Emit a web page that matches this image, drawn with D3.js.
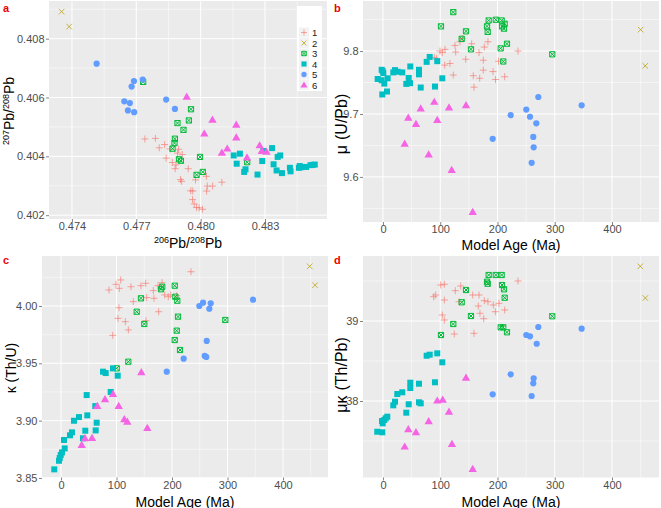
<!DOCTYPE html>
<html><head><meta charset="utf-8">
<script src="https://cdn.jsdelivr.net/npm/d3@7"></script>
<style>body{margin:0;background:#fff} text{font-family:"Liberation Sans",Arial,sans-serif}</style>
</head><body><svg id="c" width="661" height="508"></svg>
<script>
// ---------- data ----------
const groups = ["1","2","3","4","5","6"];
const groupColors = ["#F8766D","#B79F00","#00BA38","#00BFC4","#619CFF","#F564E3"];
const ageTicks = [0,100,200,300,400];
const aXTicks = [0.474,0.477,0.480,0.483];
const aYTicks = [0.402,0.404,0.406,0.408];
const bYTicks = [9.6,9.7,9.8];
const cYTicks = [3.85,3.90,3.95,4.00];
const dYTicks = [38,39];

// panel a: 206Pb/208Pb vs 207Pb/208Pb
const aG1 = [[0.4774,0.40459],[0.47789,0.40461],[0.47832,0.4044],[0.47807,0.40429],[0.47839,0.40394],[0.47857,0.40425],[0.47892,0.40411],[0.47897,0.40424],[0.47914,0.40406],[0.47868,0.40379],[0.47885,0.40371],[0.47881,0.40358],[0.47942,0.40358],[0.47906,0.40321],[0.47911,0.40315],[0.47976,0.4032],[0.48027,0.40332],[0.48099,0.40312],[0.47954,0.40283],[0.47963,0.40282],[0.48031,0.40299],[0.48056,0.40299],[0.48028,0.40282],[0.47962,0.40253],[0.4797,0.40238],[0.47981,0.40226],[0.47993,0.40225],[0.48009,0.4022]];
const aG2 = [[0.47352,0.40892],[0.47387,0.40841]];
const aG3 = [[0.47732,0.40653],[0.47955,0.4056],[0.47892,0.40513],[0.47945,0.40522],[0.4792,0.4049],[0.4788,0.4046],[0.47878,0.40445],[0.47869,0.40426],[0.47899,0.4039],[0.47908,0.40385],[0.47997,0.40398],[0.4801,0.40347],[0.47981,0.40337],[0.48217,0.4038]];
const aG4 = [[0.48154,0.40403],[0.48183,0.40409],[0.48168,0.40375],[0.48209,0.40356],[0.48203,0.40347],[0.48265,0.40338],[0.48287,0.40384],[0.48292,0.40418],[0.48333,0.40428],[0.48359,0.40398],[0.48371,0.40403],[0.4834,0.40373],[0.48354,0.40352],[0.48379,0.40343],[0.48416,0.40361],[0.48419,0.40349],[0.48458,0.40361],[0.48462,0.40367],[0.4847,0.40363],[0.48492,0.40364],[0.48512,0.4037],[0.48522,0.40371],[0.48532,0.40372]];
const aG5 = [[0.47515,0.40715],[0.47689,0.40656],[0.4773,0.40661],[0.47678,0.40637],[0.47644,0.40587],[0.4767,0.40581],[0.47661,0.40556],[0.4769,0.4055],[0.47839,0.40593],[0.4788,0.40561]];
const aG6 = [[0.47935,0.40602],[0.48055,0.40524],[0.48017,0.40477],[0.48166,0.40507],[0.48166,0.40464],[0.48099,0.40412],[0.48124,0.40426],[0.48216,0.40396],[0.48275,0.40437],[0.48285,0.40418],[0.48307,0.40415]];

// panel b: model age vs mu (U/Pb)
const bG1 = [[99.6,9.8],[108.3,9.8027],[103.6,9.7975],[89.6,9.7897],[93.8,9.7881],[107.8,9.7776],[117,9.7802],[122.8,9.7619],[125.8,9.8089],[127,9.7984],[134.5,9.8147],[138.5,9.8199],[154.9,9.8116],[157.7,9.7608],[159,9.7426],[167.7,9.7975],[177,9.8063],[175.2,9.7854],[175.2,9.7697],[183.4,9.8147],[144.5,9.787],[168.9,9.7567],[196.5,9.7548],[192.2,9.7674],[201.8,9.7838],[235.8,9.8],[212.6,9.7592]];
const bG2 = [[450,9.834],[458,9.7765]];
const bG3 = [[122.8,9.8618],[101.3,9.8392],[145,9.8313],[137.5,9.8194],[153.7,9.8027],[197,9.8497],[181.7,9.8392],[184.6,9.8486],[182.9,9.8304],[207.3,9.8486],[212.5,9.8434],[207.9,9.8392],[211.4,9.8356],[216.6,9.8116],[205.6,9.8042],[210.1,9.7834],[295.7,9.7948]];
const bG4 = [[-9.3,9.7556],[-2.3,9.7702],[-0.5,9.7682],[0.6,9.765],[-2.3,9.7536],[-1.2,9.731],[2.3,9.7483],[7,9.7357],[8.2,9.7567],[18,9.7661],[21,9.7697],[25.7,9.7671],[33.7,9.7661],[40.7,9.7478],[44.9,9.7572],[47.2,9.7489],[47.7,9.7755],[62.9,9.7702],[62.9,9.763],[65.9,9.742],[76.3,9.7828],[81.6,9.7906],[90.8,9.7436],[94.8,9.7839],[103.6,9.7567]];
const bG5 = [[191.6,9.6605],[271.3,9.727],[347,9.7138],[250.3,9.707],[223,9.6981],[256.8,9.6956],[267.8,9.6851],[262.5,9.6636],[263.2,9.647],[259.7,9.6224]];
const bG6 = [[65.9,9.7086],[89.6,9.7191],[115.3,9.7102],[145,9.7138],[44.2,9.694],[57.6,9.684],[94.8,9.6903],[37.9,9.6527],[79.8,9.6354],[120,9.611],[156.7,9.544]];

// panel c: model age vs kappa (Th/U)
const cG1 = [[86.5,4.014],[99.1,4.0189],[107.6,4.0227],[105,4.0154],[126.1,4.0168],[144.1,4.0177],[152.6,4.0198],[166.3,4.0134],[174.8,4.0177],[182,4.0203],[130.3,4.0038],[154.4,4.0073],[167.6,4.0067],[176,3.995],[104.5,3.9985],[102.7,3.9892],[115.9,3.9863],[121.3,3.9791],[93.2,3.9744],[153.2,3.9872],[197.7,4.0096],[208.5,4.009],[234.2,4.0299],[186.8,4.0096],[193.3,4.0081]];
const cG2 = [[448,4.0346],[457.7,4.0181]];
const cG3 = [[204.9,4.0177],[182.5,4.0168],[180.2,4.0146],[206,4.0081],[209.5,4.0046],[144.1,4.0067],[136.4,3.995],[210.8,3.9907],[150.1,3.9843],[208.5,3.9785],[204.9,3.9703],[214.4,3.9616],[121.3,3.9514],[100.4,3.9456],[296,3.9878]];
const cG4 = [[-12.1,3.8575],[-3.6,3.865],[-2.3,3.8674],[-0.5,3.87],[1.8,3.8723],[6.7,3.8758],[5.4,3.8831],[16.2,3.8872],[19.8,3.8898],[23.4,3.8999],[32.4,3.9031],[39.6,3.8846],[43.8,3.8912],[46.3,3.9223],[47.4,3.9046],[62.5,3.8915],[61.8,3.9127],[64.3,3.8982],[89.5,3.925],[75.7,3.9427],[80.5,3.9415],[93.7,3.9456],[102.2,3.9392]];
const cG5 = [[190.5,3.9427],[221,3.954],[249.2,4.0],[255.9,4.0029],[269.7,4.0024],[267.2,3.9976],[346,4.0055],[262.5,3.9695],[258.9,3.9564],[261.8,3.9555]];
const cG6 = [[37.3,3.8787],[43.2,3.8846],[55.9,3.8848],[65.4,3.9127],[79.3,3.9186],[93.7,3.9232],[104,3.9127],[114,3.9011],[119.5,3.899],[144.7,3.9421],[155.5,3.8935]];

// panel d: model age vs mu*kappa (Th/Pb)
const dG1 = [[88.6,39.304],[92,39.325],[100.8,39.45],[107.1,39.459],[107.1,39.2625],[103.6,39.075],[107.1,39.0125],[126.3,39.379],[135.7,39.4375],[132.8,39.241],[124.5,38.8375],[159,38.846],[156.7,39.325],[167.7,39.325],[166.5,39.1875],[177,39.254],[169.4,39.096],[176,39.029],[183.4,39.241],[196.2,39.116],[202.6,39.221],[235.8,39.5],[212.6,39.1375],[192.7,39.2]];
const dG2 = [[449.4,39.684],[458.2,39.2875]];
const dG3 = [[101.3,38.825],[122.8,38.9625],[145,39.3875],[137.5,39.234],[153.7,39.0625],[184.6,39.575],[181.7,39.491],[182.9,39.466],[197,39.575],[207.3,39.575],[207.9,39.45],[211.4,39.396],[212.6,39.291],[205.6,38.921],[210.1,38.921],[216.6,38.859],[295.7,39.059]];
const dG4 = [[-10,37.616],[-1.2,37.609],[-1.7,37.75],[-0.5,37.721],[2.3,37.763],[4.7,37.784],[7.5,37.804],[18,37.946],[21,37.991],[25,38.0875],[33.7,38.109],[40.7,37.854],[44.9,37.959],[47.7,38.229],[47.7,38.1625],[62.9,38.216],[62.9,37.984],[65.9,37.971],[76.3,38.566],[81.6,38.579],[90.8,38.234],[94.8,38.596],[103.6,38.484]];
const dG5 = [[191.6,38.084],[271.3,38.925],[347,38.904],[250.3,38.825],[256.8,38.809],[268.5,38.716],[223,38.334],[263.2,38.284],[262.5,38.221],[259.7,38.0625]];
const dG6 = [[37.9,37.429],[44.2,37.646],[57.6,37.609],[79.8,37.746],[94.8,38.004],[104.3,38.016],[115.3,37.866],[120.5,37.4625],[145,38.291],[156.7,37.15]];

// ---------- drawing ----------
const svg = d3.select("#c");
const TICKC = "#4D4D4D";

function drawShape(g, gi, x, y, legend) {
  const col = groupColors[gi];
  const s = legend ? 0.85 : 1;
  if (gi === 0) {
    const a = 3.5*s;
    g.append("path").attr("d",`M${x-a},${y}H${x+a}M${x},${y-a}V${y+a}`)
      .attr("stroke",col).attr("stroke-width",1).attr("stroke-opacity",0.65).attr("fill","none");
  } else if (gi === 1) {
    const a = 2.8*s;
    g.append("path").attr("d",`M${x-a},${y-a}L${x+a},${y+a}M${x-a},${y+a}L${x+a},${y-a}`)
      .attr("stroke",col).attr("stroke-width",1).attr("stroke-opacity",0.75).attr("fill","none");
  } else if (gi === 2) {
    const a = 2.6*s;
    g.append("path").attr("d",`M${x-a},${y-a}H${x+a}V${y+a}H${x-a}ZM${x-a},${y-a}L${x+a},${y+a}M${x-a},${y+a}L${x+a},${y-a}`)
      .attr("stroke",col).attr("stroke-width",1).attr("fill","none");
  } else if (gi === 3) {
    const a = 3*s;
    g.append("rect").attr("x",x-a).attr("y",y-a).attr("width",2*a).attr("height",2*a).attr("fill",col);
  } else if (gi === 4) {
    g.append("circle").attr("cx",x).attr("cy",y).attr("r",3.1*s).attr("fill",col);
  } else {
    g.append("path").attr("transform",`translate(${x},${y+0.5})`)
      .attr("d",d3.symbol(d3.symbolTriangle, 30*s*s)()).attr("fill",col);
  }
}

function panel(cfg) {
  const [x0,y0,x1,y1] = cfg.box;
  const x = d3.scaleLinear().domain(cfg.xDomain).range([x0,x1]);
  const y = d3.scaleLinear().domain(cfg.yDomain).range([y1,y0]);
  const g = svg.append("g");
  g.append("rect").attr("x",x0).attr("y",y0).attr("width",x1-x0).attr("height",y1-y0).attr("fill","#EBEBEB");
  cfg.xMinor.forEach(v=>{ if(v>cfg.xDomain[0]&&v<cfg.xDomain[1]) g.append("line").attr("x1",x(v)).attr("x2",x(v)).attr("y1",y0).attr("y2",y1).attr("stroke","#fff").attr("stroke-width",0.5);});
  cfg.yMinor.forEach(v=>{ if(v>cfg.yDomain[0]&&v<cfg.yDomain[1]) g.append("line").attr("y1",y(v)).attr("y2",y(v)).attr("x1",x0).attr("x2",x1).attr("stroke","#fff").attr("stroke-width",0.5);});
  cfg.xTicks.forEach(v=>g.append("line").attr("x1",x(v)).attr("x2",x(v)).attr("y1",y0).attr("y2",y1).attr("stroke","#fff").attr("stroke-width",1));
  cfg.yTicks.forEach(v=>g.append("line").attr("y1",y(v)).attr("y2",y(v)).attr("x1",x0).attr("x2",x1).attr("stroke","#fff").attr("stroke-width",1));
  const ax = g.append("g").attr("transform",`translate(0,${y1})`)
    .call(d3.axisBottom(x).tickValues(cfg.xTicks).tickFormat(cfg.xFmt).tickSize(3).tickPadding(0.5));
  const ay = g.append("g").attr("transform",`translate(${x0},0)`)
    .call(d3.axisLeft(y).tickValues(cfg.yTicks).tickFormat(cfg.yFmt).tickSize(3).tickPadding(1.5));
  [ax,ay].forEach(a=>{
    a.select(".domain").remove();
    a.selectAll(".tick line").attr("stroke","#333").attr("stroke-width",0.6);
    a.selectAll(".tick text").attr("fill",TICKC).attr("font-size",11).attr("font-family",'"Liberation Sans",Arial,sans-serif');
  });
  const pg = g.append("g");
  cfg.series.forEach((arr,gi)=>arr.forEach(d=>drawShape(pg,gi,x(d[0]),y(d[1]))));
  const xt = g.append("text").attr("x",(x0+x1)/2).attr("y",cfg.xTitleY).attr("text-anchor","middle").attr("font-size",14).attr("fill","#000");
  cfg.xTitle(xt);
  const yt = g.append("text").attr("transform",`translate(${cfg.yTitleX},${cfg.yTitleC}) rotate(-90)`).attr("text-anchor","middle").attr("font-size",cfg.yTitleSize||14).attr("fill","#000");
  cfg.yTitle(yt);
  g.append("text").attr("x",cfg.letterX).attr("y",cfg.letterY).text(cfg.letter)
    .attr("fill","#EE0000").attr("font-weight","bold").attr("font-size",11);
}

function isoTitle(t, a, b) {
  t.append("tspan").attr("font-size",9).attr("dy",-5).text(a);
  t.append("tspan").attr("dy",5).text("Pb/");
  t.append("tspan").attr("font-size",9).attr("dy",-5).text(b);
  t.append("tspan").attr("dy",5).text("Pb");
}
function greekTitle(t, g, rest) {
  t.append("tspan").text(g);
  t.append("tspan").attr("dx",5).text(rest);
}
const fmt3 = d3.format(".3f");
const ageFmt = d3.format("d");
const ageMinor = [-50,50,150,250,350,450];

panel({
  letter:"a", letterX:3, letterY:12,
  box:[49,1,327,219], xDomain:[0.47293,0.48589], yDomain:[0.40187,0.40928],
  xTicks:aXTicks, xMinor:[0.4725,0.4755,0.4785,0.4815,0.4845], xFmt:fmt3,
  yTicks:aYTicks, yMinor:[0.401,0.403,0.405,0.407,0.409], yFmt:fmt3,
  series:[aG1,aG2,aG3,aG4,aG5,aG6],
  xTitleY:248, xTitle:t=>isoTitle(t,"206","208"),
  yTitleX:14, yTitleC:111, yTitle:t=>isoTitle(t,"207","208")
});
panel({
  letter:"b", letterX:334, letterY:12,
  box:[363,1,659,222], xDomain:[-34.9,482.1], yDomain:[9.5284,9.8795],
  xTicks:ageTicks, xMinor:ageMinor, xFmt:ageFmt,
  yTicks:bYTicks, yMinor:[9.55,9.65,9.75,9.85], yFmt:d3.format(".1f"),
  series:[bG1,bG2,bG3,bG4,bG5,bG6],
  xTitleY:250, xTitle:t=>t.text("Model Age (Ma)"),
  yTitleX:347, yTitleC:124, yTitleSize:16, yTitle:t=>greekTitle(t,"\u03bc","(U/Pb)")
});
panel({
  letter:"c", letterX:3, letterY:264,
  box:[42,256,328,477.5], xDomain:[-34.2,481], yDomain:[3.8504,4.0436],
  xTicks:ageTicks, xMinor:ageMinor, xFmt:ageFmt,
  yTicks:cYTicks, yMinor:[3.875,3.925,3.975,4.025], yFmt:d3.format(".2f"),
  series:[cG1,cG2,cG3,cG4,cG5,cG6],
  xTitleY:506.5, xTitle:t=>t.text("Model Age (Ma)"),
  yTitleX:16, yTitleC:368, yTitle:t=>t.text("\u03ba (Th/U)")
});
panel({
  letter:"d", letterX:334, letterY:264,
  box:[363,256,659,477.5], xDomain:[-34.9,482.1], yDomain:[37.044,39.8125],
  xTicks:ageTicks, xMinor:ageMinor, xFmt:ageFmt,
  yTicks:dYTicks, yMinor:[37.5,38.5,39.5], yFmt:ageFmt,
  series:[dG1,dG2,dG3,dG4,dG5,dG6],
  xTitleY:506.5, xTitle:t=>t.text("Model Age (Ma)"),
  yTitleX:347, yTitleC:375, yTitleSize:16, yTitle:t=>greekTitle(t,"\u03bc\u03ba","(Th/Pb)")
});

// legend (inside panel a, top right)
const lg = svg.append("g");
lg.append("rect").attr("x",297).attr("y",6).attr("width",25).attr("height",85).attr("fill","#fff");
groups.forEach((name,i)=>{
  const cy = 32.5 + i*10.5;
  lg.append("rect").attr("x",299).attr("y",cy-5).attr("width",10).attr("height",10).attr("fill","#F2F2F2");
  drawShape(lg,i,304,cy,true);
  lg.append("text").attr("x",312).attr("y",cy+3.5).text(name).attr("font-size",9.5).attr("fill","#1a1a1a");
});
</script></body></html>
